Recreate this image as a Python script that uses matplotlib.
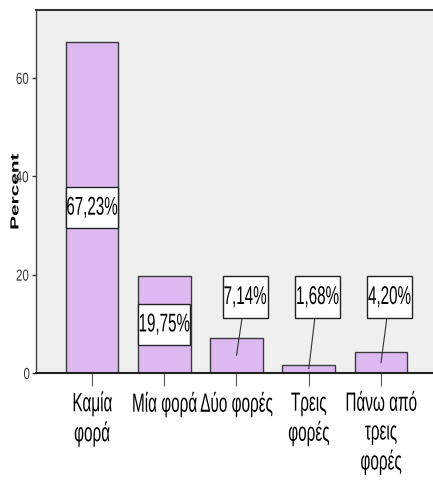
import numpy as np
from matplotlib import pyplot as plt
from matplotlib import patheffects as pe
from matplotlib.path import Path
from matplotlib.transforms import Affine2D

categories = ["Καμία\nφορά", "Μία φορά", "Δύο φορές", "Τρεις\nφορές",
              "Πάνω από\nτρεις\nφορές"]
percents = [67.23, 19.75, 7.14, 1.68, 4.20]
yticks = [0, 20, 40, 60]

BAR_COLOR = "#ddb9f1"
BG_COLOR = "#efefef"


class Squeeze(pe.AbstractPathEffect):
    """Narrow a path horizontally round its own centre (the chart is squashed)."""

    def __init__(self, sx=0.58):
        super().__init__()
        self.sx = sx

    def draw_path(self, renderer, gc, tpath, affine, rgbFace=None):
        verts = tpath.vertices
        if tpath.codes is not None:
            verts = verts[tpath.codes != Path.CLOSEPOLY]
        if len(verts):
            xs = affine.transform(verts)[:, 0]
            cx = (xs.min() + xs.max()) / 2.
        else:
            cx = 0.
        sq = Affine2D().translate(-cx, 0).scale(self.sx, 1).translate(cx, 0)
        renderer.draw_path(gc, tpath, affine + sq, rgbFace)


plt.rcParams['font.family'] = ['Liberation Sans', 'DejaVu Sans']

fig = plt.figure(figsize=(4.33, 4.91), dpi=100)
W, H = 433., 491.
ax = fig.add_axes([36 / W, 1 - 373 / H, 1 - 36 / W, 363 / H])
ax.set_facecolor(BG_COLOR)

x = np.arange(len(categories))
ax.bar(x, percents, width=0.73, color=BAR_COLOR, edgecolor="#3a3a3a",
       linewidth=1.0, zorder=2)

ax.set_xlim(-0.775, 4.72)
ax.set_ylim(0, 73.8)

# value labels: inside the tall bars, boxed above the short ones
for i, v in enumerate(percents):
    txt = ("%.2f%%" % v).replace(".", ",")
    if v > 15:
        t = ax.text(i, v / 2., txt, ha="center", va="center", fontsize=18.5,
                    zorder=4,
                    bbox=dict(boxstyle="square,pad=0.34", fc="white",
                              ec="#222222", lw=1.0))
    else:
        t = ax.annotate(txt, xy=(i, v / 2.), xytext=(i + 0.12, 15.45),
                        ha="center", va="center", fontsize=18.5, zorder=4,
                        bbox=dict(boxstyle="square,pad=0.34", fc="white",
                                  ec="#222222", lw=1.0),
                        arrowprops=dict(arrowstyle="-", color="#333333",
                                        lw=0.8, shrinkA=0, shrinkB=0))
    t.set_path_effects([Squeeze(0.59)])
    t.get_bbox_patch().set_path_effects([Squeeze(0.50)])

ax.set_xticks(x, categories)
ax.set_yticks(yticks)
ax.tick_params(axis="x", length=9.5, width=0.8, color="#555555", pad=4,
               labelsize=19)
ax.tick_params(axis="y", length=3, width=1.0, color="#333333", pad=0.5,
               labelsize=11.5, labelcolor="#333333")
for lbl in ax.get_xticklabels():
    lbl.set_linespacing(1.25)
    lbl.set_path_effects([Squeeze(0.58)])
for lbl in ax.get_yticklabels():
    lbl.set_path_effects([Squeeze(0.72)])

ax.set_ylabel("Percent", fontsize=15, fontweight="bold")
ax.yaxis.set_label_coords(-0.0264, 0.5)
ax.yaxis.label.set_path_effects([Squeeze(0.56)])

ax.spines["right"].set_visible(False)
ax.spines["top"].set_color("#333333")
ax.spines["top"].set_linewidth(1.5)
ax.spines["bottom"].set_color("#222222")
ax.spines["bottom"].set_linewidth(1.5)
ax.spines["left"].set_color("#444444")
ax.spines["left"].set_linewidth(1.0)

fig.savefig("out.png", dpi=100)
